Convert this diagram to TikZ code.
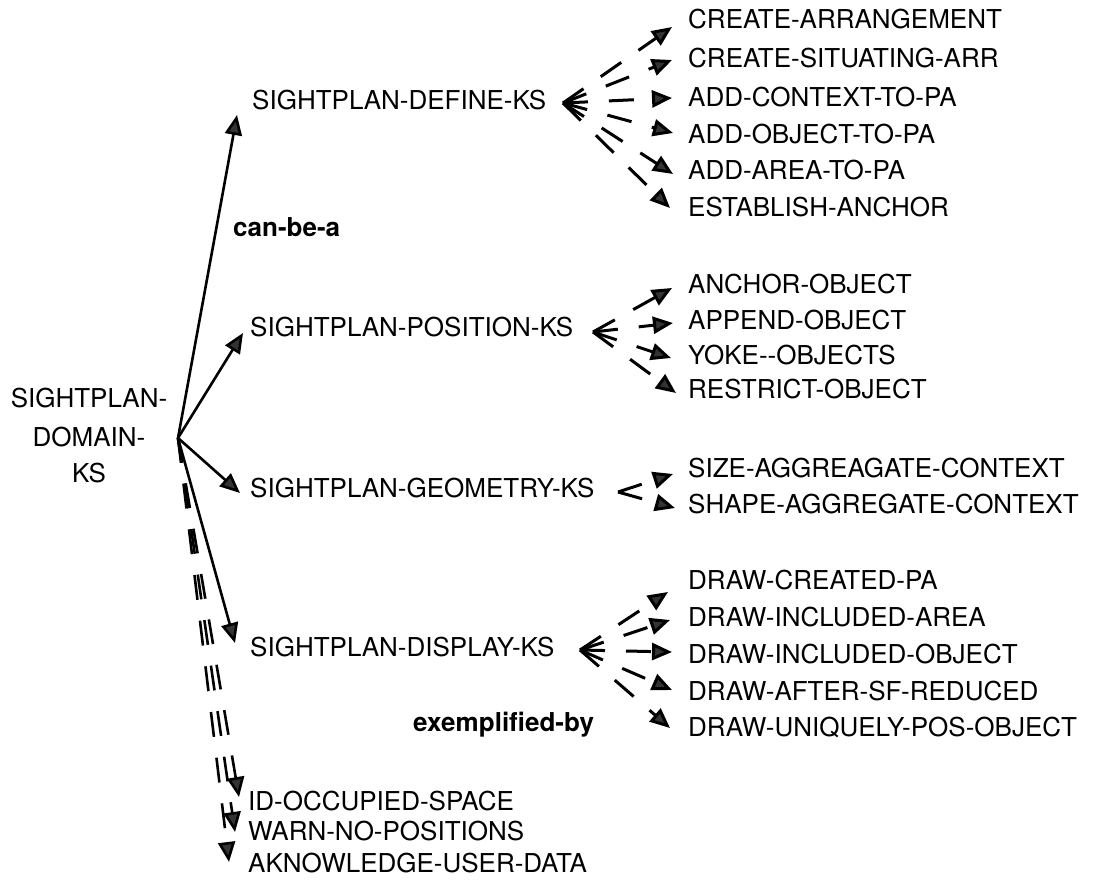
\documentclass[tikz,border=0pt]{standalone}
\usepackage{fontspec}
\setmainfont{TeX Gyre Heros}
\usetikzlibrary{arrows.meta}
\begin{document}
\begin{tikzpicture}[x=1pt,y=-1pt,
  lbl/.style={anchor=base west, inner sep=0pt, font=\fontsize{26pt}{30pt}\selectfont},
  blbl/.style={lbl, font=\fontsize{26pt}{30pt}\selectfont\bfseries},
  clbl/.style={anchor=base, inner sep=0pt, font=\fontsize{26pt}{30pt}\selectfont},
  arr/.style={-{Triangle[length=20pt,width=17pt,fill=black!80]}},
  solidarr/.style={arr, line width=2.6pt, draw=black},
  dasharr/.style={arr, line width=3pt, draw=black, dash pattern=on 25pt off 21pt},
  bundlearr/.style={dasharr, line width=2.6pt},
]
\useasboundingbox (0,0) rectangle (1098,886);
\fill[white] (0,0) rectangle (1098,886);

% root
\node[clbl] (dom1) at (89,407) {SIGHTPLAN-};
\node[clbl] (dom2) at (89,446) {DOMAIN-};
\node[clbl] (dom3) at (89,482) {KS};
\coordinate (hub) at (178,438);

% KS nodes
\node[lbl] (define) at (252,109) {SIGHTPLAN-DEFINE-KS};
\node[lbl] (position) at (250,336) {SIGHTPLAN-POSITION-KS};
\node[lbl] (geometry) at (250,497) {SIGHTPLAN-GEOMETRY-KS};
\node[lbl] (display) at (250,656) {SIGHTPLAN-DISPLAY-KS};

\node[blbl] (canbea) at (233,236) {can-be-a};
\node[blbl] (exby) at (413,731) {exemplified-by};

% children of define
\node[lbl] (d1) at (688,28) {CREATE-ARRANGEMENT};
\node[lbl] (d2) at (688,67) {CREATE-SITUATING-ARR};
\node[lbl] (d3) at (688,106) {ADD-CONTEXT-TO-PA};
\node[lbl] (d4) at (688,143) {ADD-OBJECT-TO-PA};
\node[lbl] (d5) at (688,179) {ADD-AREA-TO-PA};
\node[lbl] (d6) at (688,216) {ESTABLISH-ANCHOR};
% children of position
\node[lbl] (p1) at (688,293) {ANCHOR-OBJECT};
\node[lbl] (p2) at (688,329) {APPEND-OBJECT};
\node[lbl] (p3) at (688,364) {YOKE-{}-OBJECTS};
\node[lbl] (p4) at (688,398) {RESTRICT-OBJECT};
% children of geometry
\node[lbl] (g1) at (688,477) {SIZE-AGGREAGATE-CONTEXT};
\node[lbl] (g2) at (688,513) {SHAPE-AGGREGATE-CONTEXT};
% children of display
\node[lbl] (s1) at (688,589) {DRAW-CREATED-PA};
\node[lbl] (s2) at (688,626) {DRAW-INCLUDED-AREA};
\node[lbl] (s3) at (688,663) {DRAW-INCLUDED-OBJECT};
\node[lbl] (s4) at (688,700) {DRAW-AFTER-SF-REDUCED};
\node[lbl] (s5) at (688,736) {DRAW-UNIQUELY-POS-OBJECT};
% bottom examples
\node[lbl] (b1) at (248,810) {ID-OCCUPIED-SPACE};
\node[lbl] (b2) at (248,840) {WARN-NO-POSITIONS};
\node[lbl] (b3) at (248,872) {AKNOWLEDGE-USER-DATA};

% arrow end points
\coordinate (defineIn) at (237,115);
\coordinate (positionIn) at (243,333);
\coordinate (geometryIn) at (240,493);
\coordinate (displayIn) at (235,643);

\coordinate (apD) at (563,103);
\coordinate (tD1) at (672,27);
\coordinate (tD2) at (672,60);
\coordinate (tD3) at (672,98);
\coordinate (tD4) at (673,133);
\coordinate (tD5) at (673,174);
\coordinate (tD6) at (670,208);

\coordinate (apP) at (593,332);
\coordinate (tP1) at (672,288);
\coordinate (tP2) at (673,323);
\coordinate (tP3) at (671,358);
\coordinate (tP4) at (676,393);

\coordinate (apG) at (618,492);
\coordinate (tG1) at (673,474);
\coordinate (tG2) at (675,508);

\coordinate (apS) at (580,650);
\coordinate (tS1) at (668,592);
\coordinate (tS2) at (670,620);
\coordinate (tS3) at (672,652);
\coordinate (tS4) at (672,690);
\coordinate (tS5) at (670,728);

\coordinate (tB1) at (239,797);
\coordinate (tB2) at (235,832);
\coordinate (tB3) at (229,862);

% solid arrows
\draw[solidarr] (hub) -- (defineIn);
\draw[solidarr] (hub) -- (positionIn);
\draw[solidarr] (hub) -- (geometryIn);
\draw[solidarr] (hub) -- (displayIn);

% dashed bundle
\draw[bundlearr] (hub) -- (tB1);
\draw[bundlearr] (hub) -- (tB2);
\draw[bundlearr] (hub) -- (tB3);

% children connectors
\foreach \t in {tD1,tD2,tD3,tD4,tD5,tD6} \draw[dasharr] (apD) -- (\t);
\foreach \t in {tP1,tP2,tP3,tP4} \draw[dasharr] (apP) -- (\t);
\foreach \t in {tG1,tG2} \draw[dasharr] (apG) -- (\t);
\foreach \t in {tS1,tS2,tS3,tS4,tS5} \draw[dasharr] (apS) -- (\t);
\end{tikzpicture}
\end{document}
